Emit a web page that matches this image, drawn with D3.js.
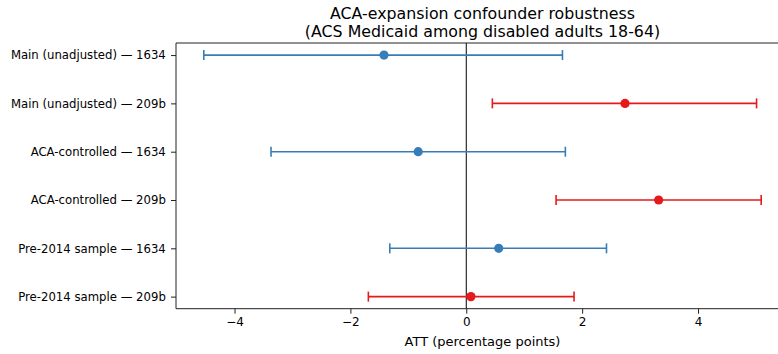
<!DOCTYPE html>
<html><head><meta charset="utf-8">
<script src="https://cdn.jsdelivr.net/npm/d3@7"></script>
<style>body{margin:0;background:#fff}svg{display:block;font-family:"DejaVu Sans",sans-serif}</style>
</head><body><svg id="c" width="778" height="354"></svg>
<script>
const labels = ["Main (unadjusted) — 1634","Main (unadjusted) — 209b","ACA-controlled — 1634","ACA-controlled — 209b","Pre-2014 sample — 1634","Pre-2014 sample — 209b"];
const estimates = [-1.42, 2.74, -0.83, 3.32, 0.56, 0.08];
const lower = [-4.53, 0.45, -3.37, 1.55, -1.32, -1.69];
const upper = [1.66, 5.01, 1.71, 5.09, 2.42, 1.86];
const groups = ["1634","209b","1634","209b","1634","209b"];
const xTicks = [-4,-2,0,2,4];
const colors = {"1634":"#377eb8","209b":"#e41a1c"};

const svg = d3.select("#c");
const L=176, R=789, T=43, B=308.7;
const x = d3.scaleLinear().domain([-5.01,5.57]).range([L,R]);
const y = d3.scaleLinear().domain([-0.25,5.25]).range([T,B]);
const rows = labels.map((l,i)=>({l,i,e:estimates[i],lo:lower[i],hi:upper[i],g:groups[i]}));

// zero line
svg.append("line").attr("x1",x(0)).attr("x2",x(0)).attr("y1",T).attr("y2",B).attr("stroke","#000").attr("stroke-width",1);

const g = svg.append("g");
rows.forEach(r=>{
  const c = colors[r.g], yy=y(r.i);
  g.append("line").attr("x1",x(r.lo)).attr("x2",x(r.hi)).attr("y1",yy).attr("y2",yy).attr("stroke",c).attr("stroke-width",1.6);
  [r.lo,r.hi].forEach(v=>g.append("line").attr("x1",x(v)).attr("x2",x(v)).attr("y1",yy-5).attr("y2",yy+5).attr("stroke",c).attr("stroke-width",1.6));
  g.append("circle").attr("cx",x(r.e)).attr("cy",yy).attr("r",4.6).attr("fill",c);
});

// frame
svg.append("path").attr("d",`M${L},${T}H${R}M${L},${T}V${B}H${R}`).attr("fill","none").attr("stroke","#222").attr("stroke-width",1);

// x axis
const xa = svg.append("g").attr("transform",`translate(0,${B})`)
  .call(d3.axisBottom(x).tickValues(xTicks).tickSize(5).tickPadding(3.8).tickFormat(d=>d<0?"\u2212"+Math.abs(d):d));
xa.select(".domain").remove();
xa.selectAll("line").attr("stroke","#222");
xa.selectAll("text").attr("font-size",12).attr("font-family","DejaVu Sans").attr("fill","#000");

// y axis
const ya = svg.append("g").attr("transform",`translate(${L},0)`)
  .call(d3.axisLeft(y).tickValues(d3.range(labels.length)).tickSize(5).tickPadding(5.2).tickFormat(i=>labels[i]));
ya.select(".domain").remove();
ya.selectAll("line").attr("stroke","#222");
ya.selectAll("text").attr("font-size",11.7).attr("font-family","DejaVu Sans").attr("fill","#000");

// labels
svg.append("text").attr("x",(L+R)/2).attr("y",346).attr("text-anchor","middle").attr("font-size",13).text("ATT (percentage points)");
svg.append("text").attr("x",(L+R)/2).attr("y",19).attr("text-anchor","middle").attr("font-size",15.8).text("ACA-expansion confounder robustness");
svg.append("text").attr("x",(L+R)/2).attr("y",36.5).attr("text-anchor","middle").attr("font-size",15.8).text("(ACS Medicaid among disabled adults 18-64)");
</script></body></html>
